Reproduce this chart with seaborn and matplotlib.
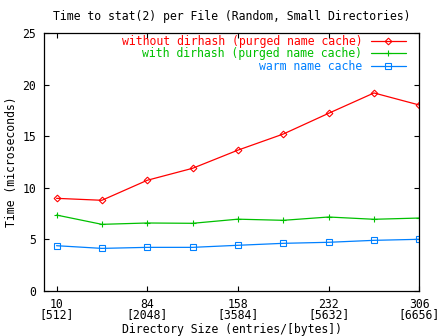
import numpy as np
import pandas as pd
import matplotlib
matplotlib.use("Agg")
import matplotlib.pyplot as plt
import seaborn as sns

# Directory sizes (entries) and the matching sizes in bytes
entries = [10, 47, 84, 121, 158, 195, 232, 269, 306]
tick_entries = [10, 84, 158, 232, 306]
tick_bytes = ["[512]", "[2048]", "[3584]", "[5632]", "[6656]"]

# Time per stat(2) call, microseconds
no_dirhash = [8.98, 8.79, 10.73, 11.89, 13.65, 15.21, 17.22, 19.19, 18.02]
with_dirhash = [7.36, 6.46, 6.59, 6.56, 6.96, 6.85, 7.17, 6.95, 7.07]
warm_cache = [4.39, 4.13, 4.23, 4.23, 4.43, 4.62, 4.72, 4.91, 5.01]

series_names = [
    "without dirhash (purged name cache)",
    "with dirhash (purged name cache)",
    "warm name cache",
]
series_values = [no_dirhash, with_dirhash, warm_cache]
colors = ["#ff0000", "#00c000", "#0080ff"]
markers = ["D", "+", "s"]
msizes = [3.4, 5.0, 4.8]

df = pd.concat(
    [pd.DataFrame({"entries": entries, "time": v, "series": n})
     for n, v in zip(series_names, series_values)],
    ignore_index=True,
)

sns.set_style("ticks")
plt.rcParams["font.family"] = ["DejaVu Sans Mono"]
plt.rcParams["font.size"] = 8.3
plt.rcParams["text.color"] = "black"

fig = plt.figure(figsize=(4.48, 3.36), dpi=100)
ax = fig.add_axes([0.0989, 0.1339, 0.936 - 0.0989, 0.9018 - 0.1339])

for name, col, mk, ms in zip(series_names, colors, markers, msizes):
    sns.lineplot(
        data=df[df["series"] == name], x="entries", y="time",
        ax=ax, color=col, lw=0.9, marker=mk, markersize=ms,
        markerfacecolor="none", markeredgecolor=col, markeredgewidth=0.8,
        label=name,
    )

ax.set_xlim(0, 306)
ax.set_ylim(0, 25)
ax.set_xticks(tick_entries)
ax.set_xticklabels([f"{e}\n{b}" for e, b in zip(tick_entries, tick_bytes)])
ax.set_yticks(np.arange(0, 26, 5))
for lab in ax.get_xticklabels():
    lab.set_linespacing(0.75)

ax.tick_params(direction="in", length=3.6, width=0.8, top=True, right=True,
               colors="black", labelsize=8.3, pad=5)
ax.tick_params(axis="y", pad=6)
for s in ax.spines.values():
    s.set_visible(True)
    s.set_linewidth(0.9)
    s.set_color("black")

ax.set_title("Time to stat(2) per File (Random, Small Directories)",
             fontsize=8.3, pad=9.5, color="black")
ax.set_xlabel("Directory Size (entries/[bytes])", fontsize=8.3, labelpad=1,
              color="black")
ax.set_ylabel("Time (microseconds)", fontsize=8.3, labelpad=3, color="black")

leg = ax.legend(loc="upper right", bbox_to_anchor=(0.9637, 0.992),
                frameon=False, markerfirst=False, handlelength=3.0,
                handletextpad=0.75, labelspacing=-0.05, borderpad=0,
                borderaxespad=0, numpoints=1, labelcolor="linecolor",
                fontsize=8.3)

fig.savefig("out.png", dpi=100, facecolor="white")
